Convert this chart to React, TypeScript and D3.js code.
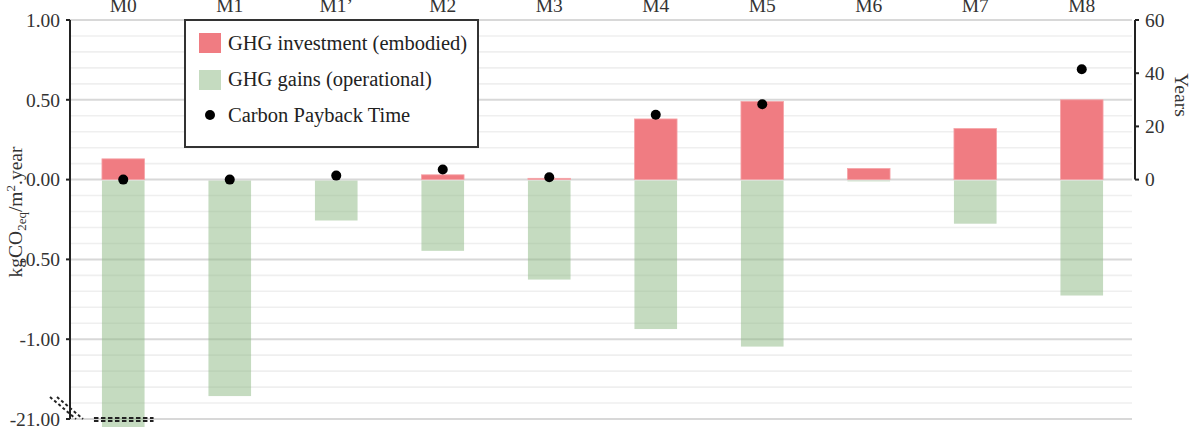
import React from "react";
import * as d3 from "d3";

const categories = ["M0", "M1", "M1’", "M2", "M3", "M4", "M5", "M6", "M7", "M8"];
const embodied = [0.13, 0, 0, 0.03, 0.008, 0.38, 0.49, 0.07, 0.32, 0.5];
const operational = [-21.05, -1.35, -0.25, -0.44, -0.62, -0.93, -1.04, -0.005, -0.27, -0.72];
const payback: (number | null)[] = [0, 0, 1.5, 3.8, 0.9, 24.4, 28.3, null, null, 41.5];
const leftTickValues = [1, 0.5, 0, -0.5, -1, -1.5];
const leftTickLabels = ["1.00", "0.50", "0.00", "-0.50", "-1.00", "-21.00"];
const minorTicks = d3.range(-15, 11).map((d) => d / 10);
const rightTickValues = [0, 20, 40, 60];
const legendLabels = ["GHG investment (embodied)", "GHG gains (operational)", "Carbon Payback Time"];

const W = 1195;
const H = 427;
const left = 70;
const right = 1135;
const top = 20;
const bottom = 419;
const RED = "#f07c82";
const GREEN = "#8bb781";
const FONT = "'Liberation Serif', 'Times New Roman', serif";

// broken axis: values below -20 are shifted up to sit just under -1
const brk = (v: number) => (v < -1.5 ? v + 19.5 : v);

export default function App() {
  const x = d3.scaleBand<string>().domain(categories).range([left, right]).paddingInner(0.6).paddingOuter(0.3);
  const y = d3.scaleLinear().domain([-1.5, 1]).range([bottom, top]);
  const yR = d3.scaleLinear().domain([0, 60]).range([y(0), top]);
  const bw = x.bandwidth();

  return (
    <svg width={W} height={H} style={{ position: "absolute", left: 0, top: 0, background: "#fff" }} fontFamily={FONT}>
      {/* grid */}
      {minorTicks.map((t) => {
        const major = Math.abs((t * 10) % 5) < 1e-6;
        return (
          <line key={"g" + t} x1={left} x2={right - 3} y1={y(t)} y2={y(t)}
            stroke={major ? "#d8d8d8" : "#efefef"} strokeWidth={major ? 2 : 1.6} />
        );
      })}
      {/* bars */}
      {categories.map((c, i) => {
        const e = embodied[i];
        const o = brk(operational[i]);
        return (
          <g key={c}>
            {e > 0 && (
              <rect x={x(c)} y={y(e)} width={bw} height={Math.max(y(0) - y(e), 0)} fill={RED} stroke="#f5a5a9" strokeWidth={0.8} />
            )}
            {o < 0 && (
              <rect x={x(c)} y={y(0) + 1} width={bw} height={y(o) - y(0)} fill={GREEN} fillOpacity={0.5} />
            )}
          </g>
        );
      })}
      {/* break marks */}
      {[0, 3].map((dy) => (
        <line key={"hb" + dy} x1={x("M0")! - 8} x2={x("M0")! + bw + 9} y1={bottom - 1 + dy} y2={bottom - 1 + dy}
          stroke="#222" strokeWidth={1.8} strokeDasharray="4.5,2.5" />
      ))}
      {[0, 7].map((dx) => (
        <line key={"db" + dx} x1={50 + dx} x2={76 + dx} y1={397} y2={419}
          stroke="#222" strokeWidth={2} strokeDasharray="3,2.5" />
      ))}
      {/* payback dots */}
      {categories.map((c, i) =>
        payback[i] === null ? null : (
          <circle key={"p" + c} cx={x(c)! + bw / 2} cy={yR(payback[i] as number)} r={5} fill="#000" />
        )
      )}
      {/* left axis */}
      <line x1={left} x2={left} y1={top} y2={bottom} stroke="#222" strokeWidth={2} />
      {leftTickValues.map((t, i) => (
        <g key={"lt" + t}>
          <line x1={left - 4} x2={left} y1={y(t)} y2={y(t)} stroke="#222" strokeWidth={2} />
          <text x={left - 10} y={y(t)} dy="0.35em" textAnchor="end" fontSize={19.5} fill="#333">{leftTickLabels[i]}</text>
        </g>
      ))}
      {/* right axis */}
      <line x1={right} x2={right} y1={top} y2={y(0)} stroke="#222" strokeWidth={2} />
      {rightTickValues.map((t) => (
        <g key={"rt" + t}>
          <line x1={right} x2={right + 4} y1={yR(t)} y2={yR(t)} stroke="#222" strokeWidth={2} />
          <text x={right + 10} y={yR(t)} dy="0.35em" textAnchor="start" fontSize={19.5} fill="#333">{t}</text>
        </g>
      ))}
      <text transform={`translate(1175,${95}) rotate(90)`} textAnchor="middle" fontSize={19.5} fill="#333">Years</text>
      {/* left label */}
      <text transform={`translate(22,${212}) rotate(-90)`} textAnchor="middle" fontSize={19.5} fill="#333">
        kgCO<tspan fontSize={13} dy={4}>2eq</tspan><tspan dy={-4}>/m</tspan><tspan fontSize={13} dy={-7}>2</tspan><tspan dy={7}>.year</tspan>
      </text>
      {/* category labels */}
      {categories.map((c) => (
        <text key={"c" + c} x={x(c)! + bw / 2} y={12} textAnchor="middle" fontSize={19.5} fill="#333">{c}</text>
      ))}
      {/* legend */}
      <g>
        <rect x={185} y={20} width={293} height={127} fill="#fff" stroke="#333" strokeWidth={2} />
        <rect x={199} y={33} width={22} height={20} fill={RED} />
        <rect x={199} y={70} width={22} height={20} fill={GREEN} fillOpacity={0.5} />
        <circle cx={210} cy={115} r={5} fill="#000" />
        {legendLabels.map((l, i) => (
          <text key={l} x={228} y={43 + i * 36} dy="0.35em" fontSize={20.5} fill="#222">{l}</text>
        ))}
      </g>
    </svg>
  );
}
